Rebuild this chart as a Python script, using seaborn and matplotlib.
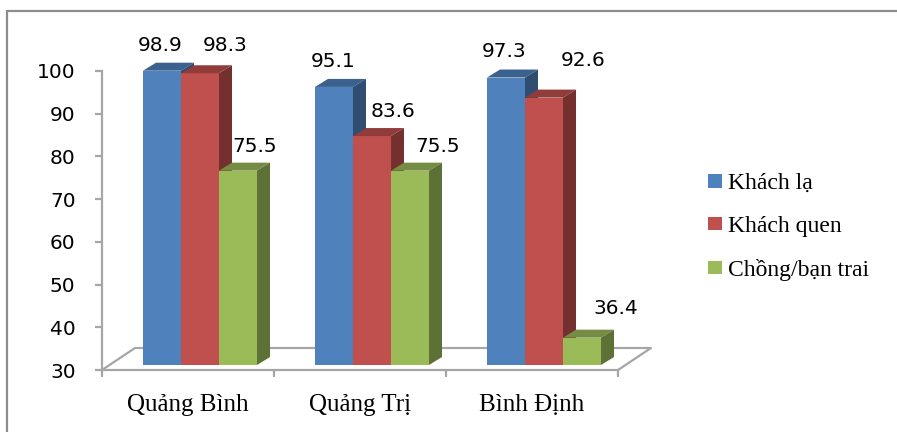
import numpy as np
import pandas as pd
import matplotlib
matplotlib.use("Agg")
import matplotlib.pyplot as plt
import seaborn as sns
from matplotlib.patches import Polygon, Rectangle, Patch
from matplotlib.lines import Line2D
from matplotlib.colors import to_rgb

# ---- data -------------------------------------------------------------
regions = ["Quảng Bình", "Quảng Trị", "Bình Định"]
groups = ["Khách lạ", "Khách quen", "Chồng/bạn trai"]
khach_la = [98.9, 95.1, 97.3]
khach_quen = [98.3, 83.6, 92.6]
chong_ban_trai = [75.5, 75.5, 36.4]
y_ticks = [30, 40, 50, 60, 70, 80, 90, 100]

# ---- styling ----------------------------------------------------------
colors = ["#4F81BD", "#C0504D", "#9BBB59"]
axis_grey = "#a6a6a6"
# label placement (pixels) relative to the top-centre of each bar front
label_offsets = [(-1.5, 27), (-1, 27), (-2, 28),
                 (25.5, 29), (20.5, 26), (39, 38.5),
                 (16.5, 26), (28, 26), (34, 31)]

df = pd.DataFrame({
    "region": regions * 3,
    "group": np.repeat(groups, 3),
    "value": khach_la + khach_quen + chong_ban_trai,
})

W, H = 897, 432
fig = plt.figure(figsize=(W / 100, H / 100), dpi=100)
ax = fig.add_axes([102 / W, (H - 370) / H, 516 / W, 299 / H])

sns.barplot(data=df, x="region", y="value", hue="group", order=regions,
            hue_order=groups, palette=colors, width=0.663, saturation=1,
            errorbar=None, legend=False, ax=ax)

ymin = y_ticks[0]
ax.set_xlim(-0.5, 2.5)
ax.set_ylim(ymin, y_ticks[-1])
ax.set_xlabel("")
ax.set_ylabel("")

# pixel -> data conversion
p0 = ax.transData.transform((0, 0))
p1 = ax.transData.transform((1, 1))
sx, sy = p1[0] - p0[0], p1[1] - p0[1]

front_dx, front_dy = 12 / sx, 5 / sy      # bars sit a little behind the front edge
depth_dx, depth_dy = 13 / sx, 8 / sy      # bar depth
floor_dx, floor_dy = 33 / sx, 22 / sy     # floor depth


def shade(c, f):
    r, g, b = to_rgb(c)
    return (r * f, g * f, b * f)


# floor outline (behind the bars)
fx = [-0.5, -0.5 + floor_dx, 2.5 + floor_dx, 2.5]
fy = [ymin, ymin + floor_dy, ymin + floor_dy, ymin]
ax.add_line(Line2D(fx, fy, color=axis_grey, lw=1.6, clip_on=False, zorder=1))

# turn flat bars into extruded blocks
for i, p in enumerate(ax.patches):
    hue_idx = i // len(regions)
    c = colors[hue_idx]
    v = p.get_height()
    x0 = p.get_x() + front_dx
    w = p.get_width()
    base = ymin + front_dy
    top = v + front_dy
    z = 3 + hue_idx * 0.1
    p.set_x(x0)
    p.set_y(base)
    p.set_height(top - base)
    p.set_clip_on(False)
    p.set_edgecolor("none")
    p.set_zorder(z)
    x1 = x0 + w
    top_face = Polygon([(x0, top), (x1, top), (x1 + depth_dx, top + depth_dy),
                        (x0 + depth_dx, top + depth_dy)], closed=True,
                       facecolor=shade(c, 0.75), edgecolor="none",
                       clip_on=False, zorder=z + 0.01)
    side_face = Polygon([(x1, base), (x1, top), (x1 + depth_dx, top + depth_dy),
                         (x1 + depth_dx, base + depth_dy)], closed=True,
                        facecolor=shade(c, 0.6), edgecolor="none",
                        clip_on=False, zorder=z + 0.01)
    ax.add_patch(top_face)
    ax.add_patch(side_face)
    ox, oy = label_offsets[i]
    ax.annotate(f"{v:.1f}", xy=(x0 + w / 2, top), xytext=(ox, oy - 7),
                textcoords="offset pixels", ha="center", va="baseline",
                fontsize=14.5, color="black", zorder=10, annotation_clip=False)

# axes styling
for s in ["top", "right"]:
    ax.spines[s].set_visible(False)
for s in ["left", "bottom"]:
    ax.spines[s].set_color(axis_grey)
    ax.spines[s].set_linewidth(1.6)
    ax.spines[s].set_zorder(2)

ax.set_yticks(y_ticks)
ax.tick_params(axis="y", direction="out", length=5, width=1.6, color=axis_grey,
               pad=14, labelsize=14.5)

ax.set_xticks([0, 1, 2])
ax.set_xticklabels(regions, fontfamily="Liberation Serif", fontsize=18)
ax.set_xticks([-0.5, 0.5, 1.5, 2.5], minor=True)
ax.tick_params(axis="x", which="major", length=0, pad=17)
ax.tick_params(axis="x", which="minor", direction="out", length=5, width=1.6,
               color=axis_grey)

# legend
handles = [Patch(facecolor=c, edgecolor="none") for c in colors]
fig.legend(handles=handles, labels=groups, loc="center left",
           bbox_to_anchor=(708 / W, 1 - 227 / H), bbox_transform=fig.transFigure,
           frameon=False, prop={"family": "Liberation Serif", "size": 17},
           handlelength=0.59, handleheight=0.5, handletextpad=0.27,
           labelspacing=0.92, borderpad=0, borderaxespad=0)

# chart area border
fig.add_artist(Rectangle((7 / W, -0.1), 1.2, 0.1 + (H - 11) / H,
                         transform=fig.transFigure, fill=False,
                         edgecolor="#8c8c8c", lw=1.6))

fig.savefig("out.png", dpi=100, facecolor="white")
